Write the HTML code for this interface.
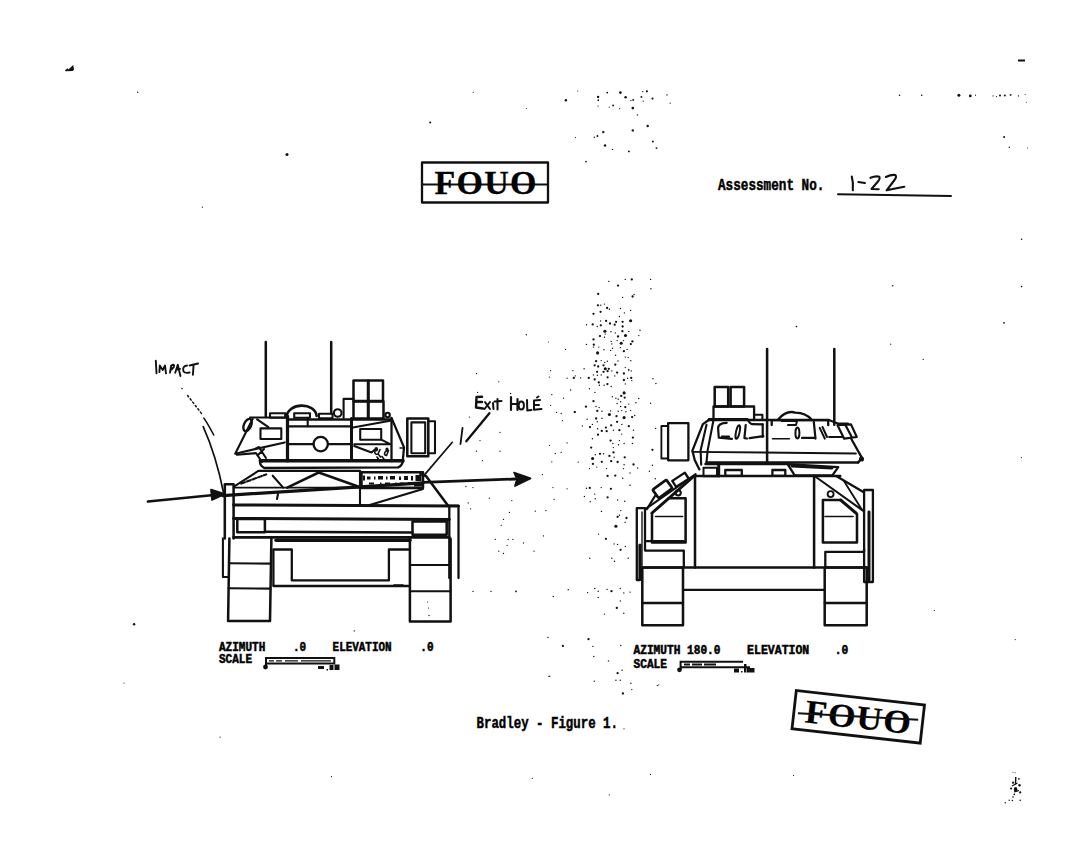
<!DOCTYPE html>
<html><head><meta charset="utf-8">
<style>
html,body{margin:0;padding:0;background:#fff;width:1067px;height:850px;overflow:hidden}
svg{position:absolute;left:0;top:0}
.t{font-family:"Liberation Mono",monospace;font-weight:bold;fill:#000;stroke:#000;stroke-width:0.5px}
.s{font-family:"Liberation Serif",serif;font-weight:bold;fill:#000;stroke:#000;stroke-width:0.3px;letter-spacing:1.2px}
.h{font-family:"Liberation Sans",sans-serif;fill:#111}
</style></head>
<body>
<svg width="1067" height="850" viewBox="0 0 1067 850">
<g fill="none" stroke="#111" stroke-width="2.1" stroke-linecap="round" stroke-linejoin="round">

<!-- ========== TOP FOUO STAMP ========== -->
<rect x="422" y="162.5" width="126" height="40" stroke-width="2.3"/>
<line x1="422" y1="184.5" x2="548" y2="184.5" stroke-width="2"/>

<!-- Assessment underline -->
<line x1="838" y1="194.3" x2="951" y2="196" stroke-width="2"/>

<!-- ========== LEFT TANK ========== -->

<g id="lt">
<!-- antennas -->
<line x1="265.8" y1="342" x2="265.8" y2="417" stroke-width="2.53"/>
<line x1="331.2" y1="342" x2="331.2" y2="413" stroke-width="2.53"/>
<!-- turret left wedge -->
<ellipse cx="247.6" cy="425" rx="3.6" ry="6.5" transform="rotate(25 247.6 425)" stroke-width="2.30"/>
<path d="M250,417.5 L287.5,417.5"/>
<path d="M252.6,419 L235.2,453.7 L284.7,442.4"/>
<path d="M257.1,419.4 L268.4,427.2"/>
<rect x="260.5" y="428.4" width="20.8" height="10.6"/>
<path d="M236.9,454.8 L256,453.1 L262,462"/>
<path d="M255,449 L259,447 L262,452 L266,458 M258,455 L264,449"/>
<line x1="287.5" y1="416" x2="287.5" y2="461" stroke-width="3.22"/>
<!-- antenna base boxes and dome -->
<rect x="270" y="413.2" width="15.2" height="4.5"/>
<path d="M286.4,417.1 C288,402 315,402 316.7,416" stroke-width="2.53"/>
<rect x="294.2" y="413.2" width="15.8" height="4.5"/>
<line x1="307.7" y1="417.7" x2="307.7" y2="426.1"/>
<rect x="319" y="413.7" width="13.5" height="4.5"/>
<circle cx="337.7" cy="413" r="3.8"/>
<!-- turret main body -->
<path d="M287.5,419.6 L391.5,419.6" stroke-width="2.53"/>
<path d="M287.5,426.4 L351.5,426.4" stroke-width="2.30"/>
<line x1="287.5" y1="444.1" x2="313.5" y2="444.1"/>
<line x1="327.9" y1="444.1" x2="351.5" y2="444.1"/>
<circle cx="320.7" cy="444.1" r="7.2" stroke-width="2.30"/>
<line x1="351.5" y1="418.5" x2="351.5" y2="460.5" stroke-width="2.99"/>
<path d="M351.5,427.7 L390.2,420.8"/>
<rect x="360.2" y="429" width="21" height="10.7"/>
<path d="M381.2,439.7 L390.2,444.2 M354.2,444.2 L390.2,444.2" stroke-width="2"/>
<path d="M354.2,446 L371.5,452.5 L375,449.5" stroke-width="2"/>
<g fill="#111" stroke="none"><ellipse cx="376.3" cy="449.3" rx="1.8" ry="2.2"/><ellipse cx="387" cy="449.8" rx="1.6" ry="2.2"/></g>
<path d="M375,451 Q374,455 378,454 L380,449.5 M385.5,451.5 Q383,455 386.5,455.5 L388.5,450.5 M377,457 l2.5,3.5 M382,456.5 l3,4 M379,455 l1.5,2" stroke-width="1.6"/>
<line x1="391.5" y1="418.5" x2="391.5" y2="461" stroke-width="2.30"/>
<path d="M391.5,417.9 L404,447.4 L402.7,461.9" stroke-width="2.30"/>
<line x1="400" y1="448" x2="403" y2="448" stroke-width="1.38"/>
<!-- turret bottom plate -->
<path d="M260.3,460.8 L403,460.8" stroke-width="3.60"/>
<path d="M260.3,460.8 Q259,465 264.3,468 L398.1,467.3 Q402,466 403,461" stroke-width="2.30"/>
<!-- smoke launchers -->
<rect x="353.5" y="380.5" width="14.5" height="20.5" stroke-width="2.53"/>
<rect x="368.5" y="380.5" width="14.5" height="20.5" stroke-width="2.53"/>
<rect x="353.5" y="401.5" width="14.5" height="17" stroke-width="2.53"/>
<rect x="368.5" y="401.5" width="15" height="17" stroke-width="2.53"/>
<path d="M343.6,418 L343.6,398.9 L353.5,398.9"/>
<circle cx="387.6" cy="415" r="2.2"/>
<!-- side box -->
<rect x="407.3" y="418.4" width="21" height="37.8" stroke-width="2.53"/>
<rect x="411.4" y="422.4" width="13.8" height="30.9" stroke-width="2.07"/>
<path d="M428.3,421.2 L435,421.2 L435,453.3 L428.3,453.3" stroke-width="2.07"/>

<!-- hull top -->
<path d="M234.7,486.2 L258.3,470.9 L360,470.9"/>
<path d="M241.2,483.6 L266.2,474.4" stroke-dasharray="4 2"/>
<path d="M272.7,475.7 L283.2,487.6 M278,494 l-1,5"/>
<path d="M287.2,487.6 L318.7,472.5 L357.4,486.2" stroke-width="2.53"/>
<line x1="360" y1="471.8" x2="360" y2="504.6"/>
<rect x="361.5" y="472.3" width="61.5" height="15.8" stroke-width="2.5"/>
<g fill="#111" stroke="none"><rect x="363" y="475.5" width="2" height="5"/><rect x="367" y="476.5" width="3.5" height="3"/><rect x="374" y="476.5" width="1.5" height="3"/><rect x="378" y="476" width="5" height="3.5"/><rect x="386" y="476.5" width="1.5" height="3"/><rect x="390" y="476" width="5" height="3.5"/><rect x="399" y="476.5" width="2" height="3.5"/><rect x="404" y="476" width="4" height="4"/><rect x="411" y="476" width="2" height="4.5"/><rect x="415.5" y="475" width="6" height="6"/>
<rect x="369" y="482.5" width="5" height="2"/><rect x="380" y="482.5" width="1.5" height="2"/><rect x="385" y="482.5" width="5" height="2"/><rect x="395" y="482.5" width="1.5" height="2"/><rect x="400" y="482.5" width="4" height="2"/><rect x="408" y="482" width="3" height="2.5"/><rect x="414" y="482" width="8" height="4.5"/></g>
<path d="M420.4,474 L426,476 L448.3,506" stroke-width="2.53"/>
<path d="M368,505.5 L423,488.9" stroke-width="2.07"/>
<!-- shot line through vehicle -->
<path d="M222.9,495.6 L423,482.8" stroke-width="3.22"/>
<!-- hull front strips -->
<path d="M224.8,484.3 L233.6,484.3 L233.6,538.4 M224.8,484.3 L224.8,538.4" stroke-width="2.53"/>
<path d="M222.9,538.4 L222.9,577 L228.1,577" stroke-width="2.07"/>
<path d="M449.3,505.9 L458.5,505.9 L458.5,578 M449.3,505.9 L449.3,578" stroke-width="2.30"/>
<line x1="233.6" y1="487.6" x2="420" y2="487.6" stroke-width="1.84"/>
<line x1="233.6" y1="505" x2="458.5" y2="505.9" stroke-width="2.99"/>
<line x1="233.6" y1="518.5" x2="449.3" y2="519.5" stroke-width="2.99"/>
<rect x="237.3" y="519" width="27.6" height="13.2" stroke-width="2.53"/>
<rect x="412.5" y="521.5" width="34.2" height="13.3" stroke-width="2.53"/>
<line x1="264.9" y1="531.8" x2="412.5" y2="532.5" stroke-width="2.53"/>
<line x1="233.6" y1="537.4" x2="449.3" y2="537.4" stroke-width="2.76"/>
<line x1="276" y1="540.3" x2="410" y2="540.3" stroke-width="3.45"/>
<!-- tracks -->
<path d="M229.4,538.4 L228.1,621 L270,621 L271.4,538.4" stroke-width="2.53"/>
<line x1="229" y1="563.3" x2="271" y2="563.6"/>
<line x1="228.6" y1="588.2" x2="270.6" y2="588.6"/>
<path d="M409.9,538.4 L409.9,621.4 L450.6,621.4 L450.6,538.7" stroke-width="2.53"/>
<line x1="409.9" y1="565" x2="450.6" y2="565"/>
<line x1="409.9" y1="591.2" x2="450.6" y2="591.2"/>
<!-- lower center -->
<path d="M273.4,585 L273.4,549.5 L291.8,549.5 L291.8,580.4 L388.9,580.4 L388.9,549.5 L410,549.5" stroke-width="2.30"/>
<line x1="273.4" y1="586" x2="410" y2="586" stroke-width="2.30"/>
<line x1="394" y1="585" x2="403" y2="585" stroke-width="1.61"/>

<!-- arrows -->
<path d="M148,501.5 L214,495" stroke-width="2.76"/>
<path d="M211,489.5 L225,494 L212,500 Z" fill="#111" stroke-width="1.72"/>
<path d="M423,482.4 L515,479" stroke-width="2.76"/>
<path d="M514,472.5 L530.5,478.4 L515,486 L517,479 Z" fill="#111" stroke-width="1.72"/>
<!-- impact leader -->
<circle cx="182" cy="388.5" r="0.8" fill="#111" stroke="none"/>
<path d="M187.6,395.5 L201.8,413.9" stroke-dasharray="1.6 2.6" stroke-width="1.5"/>
<path d="M203.9,418.1 Q208,424 213.7,435" stroke-width="1.6"/>
<path d="M203.2,426.6 Q216,455 223.6,493" stroke-width="1.7"/>
<!-- exit leader -->
<path d="M489.4,413.2 L466.3,441.3" stroke-width="2.30"/>
<path d="M462.5,428 L460.5,444" stroke-width="1.84"/>
<path d="M452.3,442.3 L423.2,476.4" stroke-width="1.72"/>
</g>

<g id="rt">
<!-- antennas -->
<line x1="767.1" y1="349" x2="767.1" y2="462.4" stroke-width="2.53"/>
<line x1="834.3" y1="349" x2="834.3" y2="424.7" stroke-width="2.53"/>
<!-- smoke launchers -->
<rect x="714.7" y="387.1" width="13.5" height="19.4" stroke-width="2.53"/>
<rect x="730.6" y="387.1" width="13.5" height="19.4" stroke-width="2.53"/>
<path d="M713.5,420 L713.5,406.5 L754.1,406.5 L754.1,420" stroke-width="2.30"/>
<path d="M754.1,414.7 L762.4,414.7 L762.4,420"/>
<!-- side box -->
<rect x="668.1" y="423.2" width="20.3" height="37.1" stroke-width="2.30"/>
<path d="M668.1,426 L661.4,426 L661.4,458.5 L668.1,458.5" stroke-width="1.84"/>
<!-- turret -->
<path d="M708.8,420 L828.8,420" stroke-width="2.53"/>
<path d="M828.8,420 L838,423.5 L848,423.5"/>
<path d="M708.8,420 L702.9,424.1 L692.4,450.6 L694.7,460 L699.4,469.4" stroke-width="2.30"/>
<path d="M706.5,424.7 L700.6,450.6 L701.2,464.7"/>
<path d="M713.5,420 L707.6,450.6 L706.5,462.4"/>
<line x1="692.4" y1="451.8" x2="855.9" y2="453.5" stroke-width="1.84"/>
<line x1="706.5" y1="462.4" x2="858.2" y2="462.4" stroke-width="2.53"/>
<path d="M851.2,438.8 L861.8,457.6 L858.2,462.4" stroke-width="2.30"/>
<circle cx="861.5" cy="459" r="1.5" fill="#111"/>
<!-- hatches -->
<path d="M708.9,419.2 L747.5,419.2 Q750,424 752.2,424.1 L762.7,424.4" stroke-width="2.3"/>
<path d="M726.7,422.8 Q718,423 718.1,428.4 L718.8,437.6 L731.9,438.9 M722,436.5 L729,436.5" stroke-width="2.2"/>
<ellipse cx="737.8" cy="432" rx="1.8" ry="7" transform="rotate(12 737.8 432)" stroke-width="2"/>
<path d="M745.7,425.1 L744.4,438.2 L747,438.5" stroke-width="2.2"/>
<path d="M749.6,438.2 L763.4,436.2 M762.7,424.4 L762.7,437" stroke-width="2.2"/>
<path d="M778.4,419.3 Q786,410 795.3,412.6 Q806,413 811.3,419.3" stroke-width="2.3"/>
<path d="M771.7,425 L771.7,420.2 L828.2,420.2 L828.2,425.2" stroke-width="2.3"/>
<path d="M781.8,421 L797,421 L796,425 L788,425" stroke-width="2"/>
<ellipse cx="797.4" cy="433" rx="2" ry="5.5" stroke-width="2"/>
<path d="M802,437.9 L813.8,437.9 M813.8,421.9 L815.5,438.7" stroke-width="2.2"/>
<path d="M819.7,427.8 L824.8,438.7 M822.5,427 L827,437" stroke-width="2"/>
<path d="M772.5,438.7 L789.4,438.7" stroke-width="1.6"/>
<path d="M829,437 L843,437" stroke-width="1.8"/>
<path d="M837.5,425.2 L851,424.4 L856.8,437 L844.2,438.7 Z M845.9,426 L851.8,437" stroke-width="2.2"/>
<!-- turret lower base -->
<path d="M705.3,464.1 L787.6,464.1 L838.2,467.1 L832.4,475.3 L794.7,475.3 L787.6,464.1" stroke-width="2.30"/>
<path d="M792,466 L832,468" stroke-width="2.88"/>
<rect x="725.3" y="470" width="16.5" height="5.9" stroke-width="2.30"/>
<rect x="772.4" y="470" width="12.9" height="5.9" stroke-width="2.30"/>
<rect x="703.5" y="467.8" width="13.5" height="8.5" stroke-width="2"/><line x1="718.7" y1="463.6" x2="718.7" y2="476" stroke-width="3"/>
<line x1="695.1" y1="476.1" x2="840.2" y2="476.1" stroke-width="2.53"/>
<!-- hull -->
<line x1="695" y1="475.3" x2="695" y2="567.6" stroke-width="2.53"/>
<line x1="814.1" y1="476.5" x2="814.1" y2="567.6" stroke-width="2.53"/>
<!-- left sponson -->
<path d="M695.6,474.1 L645,509.4" stroke-width="2.07"/>
<path d="M693,477 L652,513" stroke-width="2.99"/>
<path d="M652,513 L652,542.4 L685.6,542.4 L685.6,498.2 L668.5,498.2" stroke-width="2.53"/>
<line x1="655.5" y1="516.5" x2="682.6" y2="516.5" stroke-width="1.61"/>
<path d="M636.8,508.2 L645,508.2 L645,541.2 L683.8,541.2 M636.8,508.2 L636.8,580 L640,580" stroke-width="2.30"/>
<line x1="642" y1="512" x2="642" y2="580" stroke-width="1.38"/>
<path d="M645,541.2 L645,550.6 L683.8,550.6 L683.8,567.6" stroke-width="2.30"/>
<rect x="-8.5" y="-5.2" width="17" height="10.4" rx="1.5" transform="translate(662.5,489) rotate(-36)" stroke-width="2.8"/>
<rect x="-7.5" y="-3.6" width="15" height="7.2" transform="translate(680.5,479.8) rotate(-33)" stroke-width="2.3"/>
<circle cx="678.2" cy="492.8" r="2.6" stroke-width="2"/>
<path d="M647,509 L655,496" stroke-width="2.3"/>
<line x1="640" y1="579" x2="640" y2="545" stroke-width="3.22"/>
<!-- right sponson -->
<path d="M815.9,477 L862.9,510.6" stroke-width="2.07"/>
<path d="M837,476.5 L862.9,491.8" stroke-width="2.30"/>
<path d="M844.1,481.2 L861.8,509.4" stroke-width="1.84"/>
<path d="M840.6,500 L855.9,513" stroke-width="2.99"/>
<path d="M840.6,500 L822.9,500 L822.9,542.4 L857,542.4 L857,514.1" stroke-width="2.53"/>
<line x1="825" y1="516.5" x2="853" y2="516.5" stroke-width="1.61"/>
<circle cx="830.6" cy="494.1" r="3" stroke-width="1.84"/>
<path d="M864.1,490 L872.9,490 L872.9,582 L864.1,582 L864.1,490" stroke-width="2.30"/>
<line x1="869" y1="512" x2="869" y2="580" stroke-width="2.99"/>
<path d="M864.1,549 L864.1,551.8 L825.3,551.8 L825.3,567.6" stroke-width="2.30"/>
<line x1="814.1" y1="551.8" x2="825.3" y2="551.8" stroke-width="0"/>
<!-- bottom band and tracks -->
<line x1="643.6" y1="567.6" x2="866.7" y2="567.6" stroke-width="2.53"/>
<line x1="684.3" y1="589.9" x2="824.7" y2="589.9" stroke-width="2.30"/>
<rect x="642.3" y="567.6" width="40.7" height="57.7" stroke-width="2.53"/>
<line x1="642.3" y1="603" x2="683" y2="603" stroke-width="2.30"/>
<rect x="824.7" y="567.6" width="42" height="57.7" stroke-width="2.53"/>
<line x1="824.7" y1="603" x2="866.7" y2="603" stroke-width="2.30"/>
</g>

<g id="hand" stroke-width="1.9">
<!-- IMPACT -->
<path d="M155.8,360.6 L156.5,373.4"/>
<path d="M159.4,372.1 L159.8,365.5 L162.7,370.1 L165,365.5 L166,373.4"/>
<path d="M170,372.7 L171.2,365.5 Q175,363.5 173.8,367 L171.5,369.5"/>
<path d="M175.2,372.7 L177.8,364.8 L180.4,376 M176.5,369.5 L180,369"/>
<path d="M187,365.5 Q182,366 183.5,371.5 Q185,373.5 189.6,372.5"/>
<path d="M189.6,365.5 L198.1,363.5 M193.6,364.8 L192.9,374.7"/>
<!-- EXIT HOLE -->
<path d="M482,396.7 L476.5,397 L476,407.5 L483,408.5 M476.5,402 L482,402" stroke-width="2.4"/>
<path d="M485,402 L490,409 M490,402 L484.5,409" stroke-width="2"/>
<path d="M493,403 L493.5,409 M497.5,399 L497.5,409.5 M494.5,401.5 L501.5,401" stroke-width="2"/>
<path d="M511,397 L511,410 M517.5,399 L517.5,410 M511,404 L517.5,404" stroke-width="2.2"/>
<ellipse cx="521.3" cy="405.5" rx="2.6" ry="4" stroke-width="2"/>
<path d="M527,400 L527.3,410.5 L531.5,410" stroke-width="2"/>
<path d="M540,400 L534,400.5 L534,409.8 L541.5,409 M534,405 L539,405 M537,397.5 l1.5,-1" stroke-width="2"/>
<!-- 1-22 -->
<path d="M851.8,176.5 Q853.5,183 852.8,190.3" stroke-width="2.1"/>
<path d="M858.4,182.1 L864.9,183.1" stroke-width="2"/>
<path d="M870.5,177.8 Q876,175.5 879.3,176.8 Q880.5,178.5 877.5,182 L871.5,189 L878.7,189.3" stroke-width="2.1"/>
<path d="M885.9,177 Q891,174.5 895.3,175 Q897,176.5 894.5,180 L886.6,190.3 Q895,188.5 904.3,186.8" stroke-width="2.1"/>
</g>
</g>


<g id="spk" fill="#111" stroke="none">
<circle cx="565.5" cy="349.4" r="0.66"/>
<circle cx="548.4" cy="342.0" r="0.58"/>
<circle cx="565.9" cy="100.2" r="1.20"/>
<circle cx="577.7" cy="91.0" r="0.60"/>
<circle cx="598.1" cy="96.9" r="1.20"/>
<circle cx="598.3" cy="100.2" r="0.84"/>
<circle cx="598.1" cy="106.1" r="0.60"/>
<circle cx="607.2" cy="92.6" r="0.96"/>
<circle cx="609.2" cy="107.1" r="0.60"/>
<circle cx="613.1" cy="105.4" r="0.96"/>
<circle cx="620.4" cy="92.6" r="1.32"/>
<circle cx="619.7" cy="108.7" r="0.60"/>
<circle cx="625.6" cy="97.3" r="1.20"/>
<circle cx="630.9" cy="100.6" r="0.72"/>
<circle cx="633.2" cy="99.9" r="0.96"/>
<circle cx="632.8" cy="108.1" r="1.32"/>
<circle cx="637.4" cy="114.9" r="0.72"/>
<circle cx="642.7" cy="91.7" r="0.60"/>
<circle cx="646.9" cy="91.3" r="1.08"/>
<circle cx="641.4" cy="96.9" r="0.96"/>
<circle cx="643.3" cy="101.1" r="0.72"/>
<circle cx="652.5" cy="98.6" r="1.08"/>
<circle cx="667.0" cy="94.9" r="0.72"/>
<circle cx="670.2" cy="103.2" r="0.60"/>
<circle cx="647.7" cy="126.0" r="1.20"/>
<circle cx="632.8" cy="130.4" r="1.20"/>
<circle cx="603.3" cy="132.1" r="1.20"/>
<circle cx="597.4" cy="136.0" r="0.96"/>
<circle cx="594.4" cy="137.3" r="0.72"/>
<circle cx="575.5" cy="137.6" r="0.60"/>
<circle cx="605.0" cy="145.5" r="1.20"/>
<circle cx="612.5" cy="149.4" r="0.72"/>
<circle cx="628.9" cy="151.4" r="0.96"/>
<circle cx="652.9" cy="141.5" r="0.96"/>
<circle cx="656.5" cy="148.1" r="0.96"/>
<circle cx="586.0" cy="161.6" r="0.84"/>
<circle cx="608.8" cy="281.4" r="0.72"/>
<circle cx="625.3" cy="279.4" r="0.72"/>
<circle cx="631.8" cy="279.4" r="1.14"/>
<circle cx="650.6" cy="279.4" r="0.72"/>
<circle cx="618.0" cy="285.6" r="1.14"/>
<circle cx="650.9" cy="288.8" r="0.72"/>
<circle cx="598.2" cy="293.9" r="1.14"/>
<circle cx="622.6" cy="297.4" r="0.72"/>
<circle cx="632.6" cy="296.5" r="1.14"/>
<circle cx="634.1" cy="294.5" r="0.72"/>
<circle cx="597.9" cy="305.3" r="1.14"/>
<circle cx="600.8" cy="305.3" r="0.72"/>
<circle cx="604.4" cy="304.1" r="0.72"/>
<circle cx="607.1" cy="308.0" r="1.14"/>
<circle cx="609.4" cy="309.2" r="0.72"/>
<circle cx="620.4" cy="308.5" r="0.72"/>
<circle cx="600.6" cy="311.8" r="1.14"/>
<circle cx="593.5" cy="313.8" r="1.14"/>
<circle cx="624.4" cy="312.9" r="0.72"/>
<circle cx="630.6" cy="310.4" r="0.72"/>
<circle cx="619.4" cy="316.5" r="0.72"/>
<circle cx="600.6" cy="320.9" r="0.72"/>
<circle cx="606.1" cy="320.9" r="1.14"/>
<circle cx="610.0" cy="323.5" r="1.14"/>
<circle cx="616.1" cy="321.8" r="1.14"/>
<circle cx="614.7" cy="324.7" r="1.14"/>
<circle cx="622.6" cy="321.8" r="1.14"/>
<circle cx="622.6" cy="326.5" r="1.14"/>
<circle cx="630.6" cy="320.8" r="1.56"/>
<circle cx="586.5" cy="324.7" r="0.72"/>
<circle cx="592.7" cy="324.4" r="1.14"/>
<circle cx="597.3" cy="326.5" r="0.72"/>
<circle cx="600.8" cy="325.3" r="1.14"/>
<circle cx="604.9" cy="331.2" r="1.56"/>
<circle cx="605.3" cy="334.1" r="0.72"/>
<circle cx="610.9" cy="331.8" r="0.72"/>
<circle cx="615.3" cy="332.9" r="0.72"/>
<circle cx="622.4" cy="331.2" r="1.14"/>
<circle cx="628.8" cy="331.4" r="0.72"/>
<circle cx="640.0" cy="330.2" r="0.72"/>
<circle cx="638.8" cy="335.6" r="0.72"/>
<circle cx="600.0" cy="336.1" r="1.14"/>
<circle cx="604.4" cy="337.3" r="0.72"/>
<circle cx="618.0" cy="336.5" r="1.14"/>
<circle cx="625.5" cy="335.5" r="1.56"/>
<circle cx="593.5" cy="339.4" r="1.14"/>
<circle cx="586.5" cy="344.4" r="0.72"/>
<circle cx="593.8" cy="344.7" r="1.14"/>
<circle cx="593.5" cy="347.1" r="0.72"/>
<circle cx="598.8" cy="347.1" r="0.72"/>
<circle cx="611.2" cy="341.4" r="0.72"/>
<circle cx="611.8" cy="343.9" r="0.72"/>
<circle cx="617.1" cy="340.6" r="0.72"/>
<circle cx="621.2" cy="343.2" r="1.56"/>
<circle cx="623.5" cy="340.6" r="0.72"/>
<circle cx="632.4" cy="341.4" r="1.14"/>
<circle cx="630.8" cy="344.1" r="1.14"/>
<circle cx="603.9" cy="349.8" r="0.72"/>
<circle cx="610.6" cy="350.4" r="0.72"/>
<circle cx="612.6" cy="348.2" r="0.72"/>
<circle cx="620.4" cy="347.6" r="0.72"/>
<circle cx="623.9" cy="351.2" r="1.14"/>
<circle cx="627.1" cy="349.4" r="0.72"/>
<circle cx="597.6" cy="352.9" r="1.56"/>
<circle cx="615.6" cy="355.3" r="0.72"/>
<circle cx="625.3" cy="357.1" r="0.72"/>
<circle cx="628.2" cy="357.6" r="0.72"/>
<circle cx="630.8" cy="360.8" r="0.72"/>
<circle cx="596.1" cy="361.2" r="1.14"/>
<circle cx="601.2" cy="360.6" r="0.72"/>
<circle cx="604.7" cy="362.4" r="0.72"/>
<circle cx="607.4" cy="361.2" r="0.72"/>
<circle cx="618.0" cy="360.9" r="0.72"/>
<circle cx="594.7" cy="365.3" r="1.14"/>
<circle cx="598.2" cy="366.5" r="1.14"/>
<circle cx="603.5" cy="365.3" r="1.14"/>
<circle cx="615.3" cy="364.7" r="1.14"/>
<circle cx="605.3" cy="368.8" r="1.56"/>
<circle cx="608.8" cy="368.8" r="1.14"/>
<circle cx="625.3" cy="367.6" r="0.72"/>
<circle cx="628.8" cy="369.4" r="0.72"/>
<circle cx="584.1" cy="368.8" r="0.72"/>
<circle cx="597.1" cy="371.8" r="1.14"/>
<circle cx="603.5" cy="371.8" r="1.14"/>
<circle cx="607.6" cy="371.2" r="1.14"/>
<circle cx="611.8" cy="370.9" r="0.72"/>
<circle cx="617.1" cy="372.6" r="1.14"/>
<circle cx="623.9" cy="373.5" r="1.14"/>
<circle cx="628.8" cy="370.6" r="0.72"/>
<circle cx="631.2" cy="370.9" r="0.72"/>
<circle cx="573.8" cy="377.9" r="1.14"/>
<circle cx="580.6" cy="377.9" r="0.72"/>
<circle cx="588.8" cy="377.9" r="1.14"/>
<circle cx="593.5" cy="374.9" r="0.72"/>
<circle cx="597.3" cy="375.3" r="0.72"/>
<circle cx="601.2" cy="374.9" r="0.72"/>
<circle cx="607.6" cy="377.3" r="1.14"/>
<circle cx="614.7" cy="375.9" r="0.72"/>
<circle cx="623.9" cy="380.0" r="1.14"/>
<circle cx="627.6" cy="378.2" r="0.72"/>
<circle cx="631.2" cy="377.9" r="1.14"/>
<circle cx="631.8" cy="380.6" r="0.72"/>
<circle cx="652.9" cy="378.8" r="0.72"/>
<circle cx="655.9" cy="383.5" r="0.72"/>
<circle cx="594.7" cy="379.4" r="1.14"/>
<circle cx="598.8" cy="382.4" r="1.14"/>
<circle cx="599.4" cy="385.3" r="0.72"/>
<circle cx="604.1" cy="385.3" r="0.72"/>
<circle cx="607.4" cy="384.1" r="1.14"/>
<circle cx="611.2" cy="386.5" r="0.72"/>
<circle cx="625.3" cy="383.9" r="0.72"/>
<circle cx="589.4" cy="388.8" r="0.72"/>
<circle cx="570.6" cy="390.0" r="0.72"/>
<circle cx="594.9" cy="392.4" r="0.72"/>
<circle cx="624.1" cy="392.9" r="1.56"/>
<circle cx="621.2" cy="395.9" r="1.14"/>
<circle cx="624.7" cy="397.6" r="1.14"/>
<circle cx="612.4" cy="396.8" r="0.72"/>
<circle cx="615.9" cy="398.2" r="0.72"/>
<circle cx="618.2" cy="399.2" r="0.72"/>
<circle cx="638.8" cy="398.5" r="0.72"/>
<circle cx="593.5" cy="401.2" r="1.14"/>
<circle cx="620.6" cy="401.8" r="0.72"/>
<circle cx="617.1" cy="403.5" r="0.72"/>
<circle cx="628.8" cy="404.1" r="0.72"/>
<circle cx="635.9" cy="402.7" r="0.72"/>
<circle cx="650.6" cy="403.2" r="0.72"/>
<circle cx="585.9" cy="406.7" r="1.14"/>
<circle cx="596.1" cy="406.5" r="0.72"/>
<circle cx="599.2" cy="407.6" r="0.72"/>
<circle cx="620.6" cy="406.5" r="0.72"/>
<circle cx="625.3" cy="407.1" r="1.14"/>
<circle cx="574.7" cy="412.1" r="1.14"/>
<circle cx="597.3" cy="410.9" r="1.14"/>
<circle cx="602.0" cy="411.2" r="0.72"/>
<circle cx="610.6" cy="410.9" r="0.72"/>
<circle cx="618.2" cy="411.2" r="0.72"/>
<circle cx="621.8" cy="410.6" r="0.72"/>
<circle cx="625.9" cy="411.8" r="0.72"/>
<circle cx="630.6" cy="410.6" r="0.72"/>
<circle cx="609.4" cy="414.5" r="1.56"/>
<circle cx="616.5" cy="416.2" r="1.14"/>
<circle cx="624.1" cy="417.6" r="1.56"/>
<circle cx="632.1" cy="417.1" r="1.14"/>
<circle cx="634.7" cy="415.5" r="0.72"/>
<circle cx="587.1" cy="419.2" r="0.72"/>
<circle cx="596.1" cy="418.5" r="1.14"/>
<circle cx="602.0" cy="418.2" r="0.72"/>
<circle cx="597.3" cy="421.8" r="0.72"/>
<circle cx="617.1" cy="421.8" r="1.14"/>
<circle cx="621.8" cy="424.4" r="0.72"/>
<circle cx="582.4" cy="425.9" r="0.72"/>
<circle cx="590.0" cy="427.1" r="1.14"/>
<circle cx="592.4" cy="424.4" r="0.72"/>
<circle cx="611.2" cy="425.3" r="1.14"/>
<circle cx="628.8" cy="426.2" r="1.14"/>
<circle cx="605.9" cy="427.6" r="1.14"/>
<circle cx="597.6" cy="428.8" r="0.72"/>
<circle cx="601.8" cy="430.9" r="1.14"/>
<circle cx="606.7" cy="431.2" r="1.14"/>
<circle cx="613.5" cy="430.2" r="0.72"/>
<circle cx="619.4" cy="430.2" r="1.14"/>
<circle cx="621.8" cy="434.1" r="0.72"/>
<circle cx="633.5" cy="430.2" r="0.72"/>
<circle cx="655.6" cy="428.5" r="0.72"/>
<circle cx="598.0" cy="434.7" r="1.14"/>
<circle cx="592.4" cy="438.8" r="0.72"/>
<circle cx="610.6" cy="440.6" r="1.14"/>
<circle cx="619.4" cy="440.6" r="0.72"/>
<circle cx="612.9" cy="443.5" r="0.72"/>
<circle cx="618.5" cy="444.7" r="0.72"/>
<circle cx="624.1" cy="443.5" r="0.72"/>
<circle cx="632.4" cy="443.5" r="0.72"/>
<circle cx="632.9" cy="437.6" r="1.14"/>
<circle cx="591.2" cy="447.6" r="1.14"/>
<circle cx="613.3" cy="447.6" r="0.72"/>
<circle cx="652.4" cy="449.8" r="1.14"/>
<circle cx="595.3" cy="454.7" r="0.72"/>
<circle cx="600.0" cy="453.8" r="1.14"/>
<circle cx="603.5" cy="453.8" r="0.72"/>
<circle cx="613.5" cy="452.4" r="1.14"/>
<circle cx="609.4" cy="455.9" r="1.14"/>
<circle cx="614.1" cy="457.3" r="0.72"/>
<circle cx="592.6" cy="458.5" r="1.56"/>
<circle cx="624.7" cy="457.3" r="1.14"/>
<circle cx="578.2" cy="462.1" r="0.72"/>
<circle cx="601.8" cy="461.8" r="1.14"/>
<circle cx="611.2" cy="461.2" r="1.14"/>
<circle cx="617.6" cy="462.0" r="1.14"/>
<circle cx="592.9" cy="463.9" r="1.14"/>
<circle cx="596.8" cy="467.1" r="0.72"/>
<circle cx="624.1" cy="464.7" r="0.72"/>
<circle cx="633.5" cy="464.5" r="1.14"/>
<circle cx="637.6" cy="468.0" r="0.72"/>
<circle cx="652.4" cy="465.3" r="0.72"/>
<circle cx="589.4" cy="468.6" r="0.72"/>
<circle cx="606.5" cy="468.6" r="0.72"/>
<circle cx="623.5" cy="468.6" r="0.72"/>
<circle cx="607.6" cy="475.9" r="1.14"/>
<circle cx="615.3" cy="475.6" r="1.14"/>
<circle cx="622.7" cy="478.2" r="0.72"/>
<circle cx="630.0" cy="472.9" r="0.72"/>
<circle cx="649.4" cy="471.2" r="0.72"/>
<circle cx="655.3" cy="478.8" r="0.72"/>
<circle cx="586.5" cy="488.2" r="0.72"/>
<circle cx="589.8" cy="487.9" r="1.14"/>
<circle cx="601.2" cy="487.6" r="0.72"/>
<circle cx="610.9" cy="488.8" r="1.14"/>
<circle cx="630.0" cy="485.3" r="0.72"/>
<circle cx="584.4" cy="496.5" r="0.72"/>
<circle cx="594.7" cy="494.1" r="0.72"/>
<circle cx="595.3" cy="498.8" r="0.72"/>
<circle cx="590.2" cy="501.8" r="0.72"/>
<circle cx="607.6" cy="497.3" r="1.14"/>
<circle cx="617.6" cy="500.0" r="0.72"/>
<circle cx="624.7" cy="501.2" r="0.72"/>
<circle cx="601.5" cy="511.4" r="0.72"/>
<circle cx="620.8" cy="510.6" r="0.72"/>
<circle cx="617.6" cy="516.8" r="1.14"/>
<circle cx="619.4" cy="515.3" r="0.72"/>
<circle cx="626.5" cy="518.0" r="1.14"/>
<circle cx="625.1" cy="522.4" r="0.72"/>
<circle cx="615.9" cy="526.2" r="1.56"/>
<circle cx="598.5" cy="534.1" r="0.72"/>
<circle cx="605.9" cy="538.8" r="1.14"/>
<circle cx="614.1" cy="543.9" r="0.72"/>
<circle cx="617.6" cy="544.4" r="0.72"/>
<circle cx="625.3" cy="546.5" r="0.72"/>
<circle cx="620.6" cy="549.8" r="1.14"/>
<circle cx="589.8" cy="558.2" r="0.72"/>
<circle cx="611.8" cy="558.2" r="0.72"/>
<circle cx="614.5" cy="561.2" r="0.72"/>
<circle cx="628.2" cy="558.2" r="0.72"/>
<circle cx="553.2" cy="596.5" r="0.72"/>
<circle cx="568.2" cy="589.8" r="0.72"/>
<circle cx="587.6" cy="592.6" r="0.72"/>
<circle cx="594.7" cy="588.5" r="0.72"/>
<circle cx="598.2" cy="591.2" r="0.72"/>
<circle cx="598.2" cy="597.4" r="0.72"/>
<circle cx="607.1" cy="589.4" r="0.72"/>
<circle cx="611.5" cy="591.2" r="1.14"/>
<circle cx="620.3" cy="588.5" r="0.72"/>
<circle cx="623.8" cy="592.9" r="0.72"/>
<circle cx="630.0" cy="592.1" r="0.72"/>
<circle cx="620.3" cy="600.9" r="0.72"/>
<circle cx="616.8" cy="607.9" r="1.14"/>
<circle cx="604.4" cy="614.1" r="0.72"/>
<circle cx="623.8" cy="613.2" r="0.72"/>
<circle cx="547.9" cy="637.4" r="0.72"/>
<circle cx="562.9" cy="645.9" r="1.14"/>
<circle cx="588.5" cy="639.2" r="1.14"/>
<circle cx="592.9" cy="646.4" r="0.72"/>
<circle cx="620.8" cy="645.5" r="0.72"/>
<circle cx="593.8" cy="656.5" r="0.72"/>
<circle cx="608.5" cy="660.9" r="0.72"/>
<circle cx="549.7" cy="676.2" r="0.72"/>
<circle cx="594.3" cy="681.2" r="0.72"/>
<circle cx="617.6" cy="673.2" r="1.14"/>
<circle cx="622.1" cy="670.2" r="0.72"/>
<circle cx="615.9" cy="680.3" r="0.72"/>
<circle cx="620.3" cy="680.3" r="0.72"/>
<circle cx="630.9" cy="683.3" r="0.72"/>
<circle cx="631.8" cy="689.6" r="0.72"/>
<circle cx="622.9" cy="693.5" r="1.14"/>
<circle cx="657.3" cy="685.6" r="0.72"/>
<circle cx="476.5" cy="373.5" r="0.65"/>
<circle cx="498.8" cy="381.8" r="0.65"/>
<circle cx="549.4" cy="377.1" r="0.65"/>
<circle cx="567.1" cy="378.2" r="0.65"/>
<circle cx="575.3" cy="375.9" r="0.65"/>
<circle cx="477.6" cy="392.4" r="0.65"/>
<circle cx="510.6" cy="393.5" r="0.65"/>
<circle cx="551.8" cy="394.7" r="0.65"/>
<circle cx="563.5" cy="398.2" r="0.65"/>
<circle cx="550.6" cy="405.3" r="0.65"/>
<circle cx="556.5" cy="412.4" r="0.65"/>
<circle cx="561.2" cy="413.5" r="0.65"/>
<circle cx="575.3" cy="411.9" r="0.65"/>
<circle cx="469.4" cy="417.1" r="0.65"/>
<circle cx="482.4" cy="420.6" r="0.65"/>
<circle cx="500.0" cy="432.4" r="0.65"/>
<circle cx="562.4" cy="420.6" r="0.65"/>
<circle cx="480.0" cy="440.6" r="0.65"/>
<circle cx="549.4" cy="445.3" r="0.65"/>
<circle cx="567.1" cy="442.9" r="0.65"/>
<circle cx="476.5" cy="451.2" r="0.65"/>
<circle cx="500.0" cy="451.2" r="0.65"/>
<circle cx="555.3" cy="453.5" r="0.65"/>
<circle cx="561.2" cy="452.4" r="0.65"/>
<circle cx="482.4" cy="460.6" r="0.65"/>
<circle cx="551.8" cy="461.8" r="0.65"/>
<circle cx="542.4" cy="474.7" r="0.65"/>
<circle cx="465.9" cy="486.5" r="0.65"/>
<circle cx="472.9" cy="487.6" r="0.65"/>
<circle cx="489.4" cy="498.2" r="0.65"/>
<circle cx="552.9" cy="487.6" r="0.65"/>
<circle cx="567.1" cy="488.8" r="0.65"/>
<circle cx="468.2" cy="502.9" r="0.65"/>
<circle cx="511.8" cy="500.6" r="0.65"/>
<circle cx="554.1" cy="499.4" r="0.65"/>
<circle cx="470.6" cy="508.8" r="0.65"/>
<circle cx="509.4" cy="512.4" r="0.65"/>
<circle cx="535.3" cy="511.2" r="0.65"/>
<circle cx="545.9" cy="510.5" r="0.65"/>
<circle cx="503.5" cy="519.4" r="0.65"/>
<circle cx="501.2" cy="525.3" r="0.65"/>
<circle cx="543.5" cy="535.9" r="0.65"/>
<circle cx="495.3" cy="539.4" r="0.65"/>
<circle cx="508.2" cy="539.4" r="0.65"/>
<circle cx="512.9" cy="539.4" r="0.65"/>
<circle cx="507.1" cy="545.3" r="0.65"/>
<circle cx="523.5" cy="542.9" r="0.65"/>
<circle cx="498.8" cy="551.2" r="0.65"/>
<circle cx="503.5" cy="553.5" r="0.65"/>
<circle cx="534.1" cy="551.2" r="0.65"/>
<circle cx="550.6" cy="370.7" r="0.65"/>
<circle cx="572.9" cy="370.7" r="0.65"/>
<circle cx="287" cy="154.5" r="1.5"/>
<circle cx="137.7" cy="92.3" r="0.7"/>
<circle cx="473.2" cy="92.3" r="0.6"/>
<circle cx="526.3" cy="108.5" r="0.5"/>
<circle cx="430.2" cy="122.6" r="1.0"/>
<circle cx="202.4" cy="207.2" r="0.6"/>
<circle cx="526.3" cy="334.7" r="0.7"/>
<circle cx="1021.6" cy="239.3" r="0.8"/>
<circle cx="892.6" cy="285.8" r="0.8"/>
<circle cx="1021.6" cy="286.6" r="0.8"/>
<circle cx="796.5" cy="326.6" r="0.8"/>
<circle cx="1004" cy="322.8" r="0.9"/>
<circle cx="890.7" cy="344.2" r="0.6"/>
<circle cx="923.2" cy="359.4" r="0.6"/>
<circle cx="1021.3" cy="457.6" r="0.6"/>
<circle cx="934.3" cy="610.5" r="0.6"/>
<circle cx="1015.2" cy="639.6" r="0.6"/>
<circle cx="1015.2" cy="772.8" r="0.5"/>
<circle cx="134.1" cy="624.3" r="1.2"/>
<circle cx="124" cy="683" r="0.6"/>
<circle cx="220.1" cy="737.1" r="0.6"/>
<circle cx="331.5" cy="776.6" r="0.6"/>
<circle cx="354.3" cy="630.9" r="0.7"/>
<circle cx="473" cy="591.4" r="0.7"/>
<circle cx="491" cy="591.4" r="0.7"/>
<circle cx="516" cy="591.4" r="0.9"/>
<circle cx="427.6" cy="602" r="0.6"/>
<circle cx="428.5" cy="608" r="0.6"/>
<circle cx="429" cy="615.5" r="0.7"/>
<circle cx="532.3" cy="778.3" r="0.6"/>
<circle cx="609.3" cy="794.8" r="0.6"/>
<circle cx="650.5" cy="774.4" r="0.6"/>
<circle cx="793.5" cy="775.5" r="0.6"/>
<circle cx="548.8" cy="676.5" r="0.6"/>
<circle cx="658.8" cy="684.8" r="0.6"/>
<circle cx="624" cy="728.8" r="0.6"/>
</g>

<g id="marks" fill="#111" stroke="none">
<path d="M65,70.5 L67.3,68.2 L68.3,69.6 L73.3,65 L74,69.8 L72.6,71 L65.5,71.2 Z"/>
<rect x="1018" y="59.5" width="7" height="2"/>
<circle cx="899.6" cy="95.2" r="0.8"/>
<circle cx="921.7" cy="95.2" r="0.8"/>
<circle cx="958.9" cy="95.2" r="1.5"/>
<circle cx="970.3" cy="95.9" r="1.4"/>
<circle cx="975.5" cy="95.2" r="0.6"/>
<circle cx="993.0" cy="95.9" r="0.6"/>
<circle cx="996.5" cy="96.6" r="0.6"/>
<circle cx="1000.0" cy="95.6" r="1.0"/>
<circle cx="1004.8" cy="95.6" r="1.0"/>
<circle cx="1010.6" cy="94.9" r="0.9"/>
<circle cx="1018.5" cy="95.9" r="0.7"/>
<circle cx="1025.1" cy="94.5" r="0.5"/>
<circle cx="1026.3" cy="102.2" r="0.5"/>
<circle cx="1004.1" cy="137.1" r="1.0"/>
<circle cx="1009.3" cy="147.3" r="0.7"/>
<circle cx="1027.7" cy="148.1" r="0.5"/>
<!-- bottom-right blob -->
<path d="M1015,777 L1016.5,777 L1016.2,784.5 L1014.8,784.5 Z"/>
<circle cx="1018.9" cy="778.8" r="0.9"/><circle cx="1013" cy="782.7" r="1.1"/><circle cx="1019.5" cy="785.3" r="1.2"/><circle cx="1011.1" cy="788.5" r="1.1"/>
<ellipse cx="1015.6" cy="789.5" rx="1.8" ry="2.4"/><circle cx="1020.2" cy="792.4" r="1.1"/><circle cx="1014.3" cy="794.3" r="0.9"/><circle cx="1013" cy="797" r="0.8"/>
<circle cx="1009.2" cy="800.2" r="0.7"/><circle cx="1012.4" cy="800.5" r="0.8"/><circle cx="1020.2" cy="800.2" r="0.8"/><circle cx="1005.3" cy="802.7" r="0.7"/><circle cx="1013" cy="772.3" r="0.5"/>
<path d="M1012,786 L1017.5,783 M1014,792 L1019,790.5" stroke="#111" stroke-width="1.2"/>
</g>

<g id="sb" fill="none" stroke="#111">
<path d="M266,666.5 L266,658 L334.3,658 L334.3,663.5 L267,663.5" stroke-width="2"/>
<path d="M269,660.8 h5 m2,0 h6 m3,0 h13 m3,0 h30" stroke-width="1.2"/>
<circle cx="265.5" cy="667" r="2.4" fill="#111" stroke="none"/>
<path d="M680.6,670 L680.6,661.7 L743,661.7 M681,667.2 L750,667.2 M684,664.5 h6 m2,0 h10 m2,0 h12" stroke-width="2"/>
<circle cx="679.5" cy="669.8" r="2.4" fill="#111" stroke="none"/>
</g>
<g fill="#111" stroke="none">
<path d="M318,666 h6 v3 h-6z M326.5,669 h1.5 v1.5 h-1.5z M329.5,665 h4 v5 h-4z M334.5,664.5 h5 v5.5 h-5z"/>
<path d="M734,668.5 h5 v4 h-5z M741,671 h1.5 v1.5 h-1.5z M744,664 h2.5 v8.5 h-2.5z M747,668 h7.5 v4.5 h-7.5z"/>
</g>

<!-- text -->
<text class="s" font-size="33" transform="translate(434.5,193.5) scale(1.03,1)">FOUO</text>
<text class="t" font-size="17" transform="translate(718,189.7) scale(0.745,1)">Assessment No.</text>
<text class="t" font-size="17" transform="translate(476.5,728.1) scale(0.73,1)">Bradley - Figure 1.</text>
<g class="t" font-size="12">
<text transform="translate(219,650.7) scale(0.92,1)">AZIMUTH</text>
<text transform="translate(293,650.7) scale(0.92,1)">.0</text>
<text transform="translate(332.6,650.7) scale(0.91,1)">ELEVATION</text>
<text transform="translate(420.3,650.7) scale(0.92,1)">.0</text>
<text transform="translate(219,663.1) scale(0.92,1)">SCALE</text>
<text transform="translate(633.5,654.1) scale(0.93,1)">AZIMUTH 180.0</text>
<text transform="translate(747.1,654.1) scale(0.96,1)">ELEVATION</text>
<text transform="translate(834.8,654.1) scale(0.94,1)">.0</text>
<text transform="translate(633.5,667.6) scale(0.93,1)">SCALE</text>
</g>

<g id="stamp2" transform="translate(858.25,716.85) rotate(6.4)">
<rect x="-64.5" y="-19.25" width="129" height="38.5" fill="none" stroke="#111" stroke-width="2.8"/>
<text class="s" font-size="33" transform="translate(-53,11.5) scale(1.07,1)">FOUO</text>
</g>
<line x1="797.9" y1="713.2" x2="918.2" y2="719.8" stroke="#111" stroke-width="2"/>
</svg>
</body></html>
